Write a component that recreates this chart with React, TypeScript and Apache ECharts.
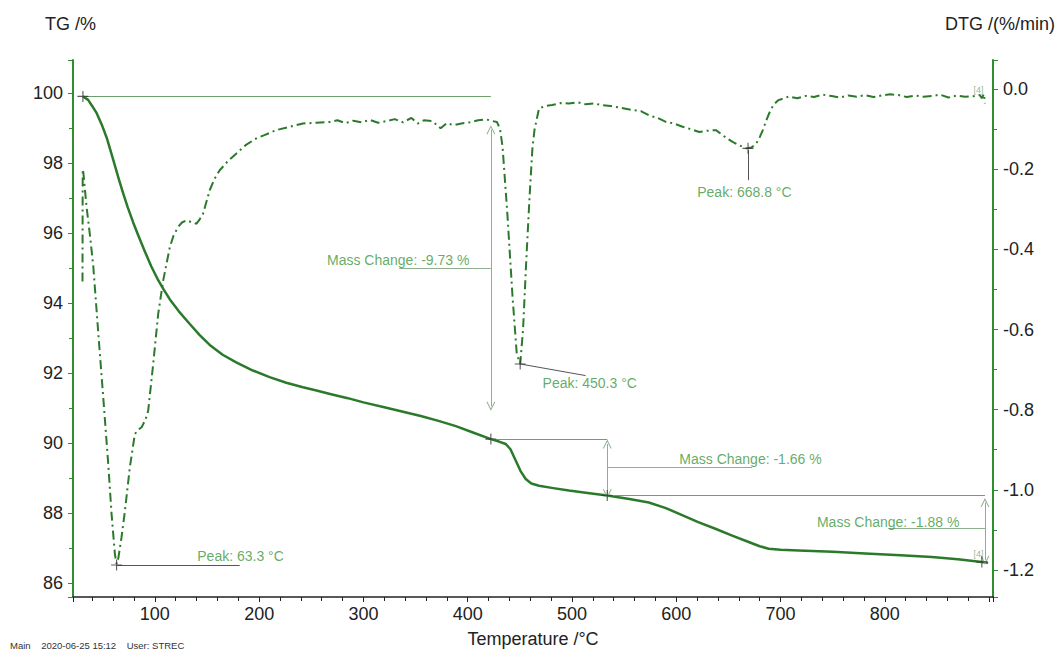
import React, { useEffect, useRef } from "react";
import * as echarts from "echarts";

// ---- data ----
const tgData: [number, number][] = [
  [31, 99.9], [36, 99.8], [40, 99.62], [44.2, 99.42], [49, 99.1], [53.8, 98.72], [57.5, 98.35],
  [61.7, 97.92], [65.5, 97.53], [69.7, 97.12], [74, 96.73], [79.2, 96.3], [84.5, 95.9], [90.4, 95.47],
  [96.5, 95.05], [103.2, 94.65], [108.5, 94.38], [114.4, 94.1], [123, 93.76], [133.5, 93.4], [143, 93.08],
  [152.6, 92.8], [165, 92.52], [178, 92.3], [194, 92.07], [210, 91.88], [226, 91.72], [242, 91.59],
  [255, 91.5], [268, 91.4], [285, 91.28], [300, 91.16], [320, 91.02], [340, 90.88], [355, 90.77],
  [372, 90.63], [388.6, 90.48], [405, 90.3], [422.2, 90.11], [430, 90.04], [436.5, 89.97], [441, 89.82],
  [446, 89.5], [451, 89.18], [455.6, 88.97], [461, 88.84], [468.4, 88.78], [482, 88.71], [497, 88.64],
  [515, 88.57], [533.8, 88.5], [555, 88.4], [573.7, 88.3], [590, 88.14], [605.6, 87.94], [621, 87.74],
  [637.5, 87.55], [653, 87.36], [669.4, 87.17], [680, 87.05], [688.6, 86.98], [700, 86.95], [717.3, 86.93],
  [750, 86.89], [781, 86.84], [815, 86.79], [845, 86.74], [870, 86.68], [893, 86.6], [899, 86.58],
];

const dtgData: [number, number][] = [
  [30.6, -0.48], [30.8, -0.2], [31.5, -0.21], [34.5, -0.294], [38, -0.37], [41, -0.444], [45.8, -0.611],
  [50.5, -0.769], [55.3, -0.936], [58.5, -1.061], [61.7, -1.161], [63.3, -1.185], [65, -1.17], [68, -1.119],
  [71.3, -1.0525], [76, -0.944], [80.8, -0.861], [84, -0.85], [87.3, -0.844], [91, -0.825], [93.6, -0.8025],
  [98.4, -0.686], [103.2, -0.561], [108, -0.4775], [114.4, -0.394], [118, -0.365], [122.3, -0.344],
  [126, -0.333], [130.3, -0.3275], [135, -0.332], [139.9, -0.336], [143, -0.325], [146.2, -0.311],
  [152.6, -0.2525], [157, -0.225], [162.2, -0.2025], [170, -0.18], [178.2, -0.161], [187, -0.14],
  [197.3, -0.123], [205, -0.115], [216.4, -0.1025], [228, -0.095], [242, -0.086], [255, -0.084],
  [268, -0.082], [275, -0.078], [283, -0.085], [290, -0.079], [298, -0.083], [306, -0.077], [314, -0.084],
  [322, -0.08], [330, -0.075], [338, -0.083], [346, -0.072], [352, -0.086], [358, -0.078], [366, -0.08],
  [374, -0.098], [380, -0.085], [386, -0.09], [394, -0.086], [402, -0.083], [410, -0.078], [418, -0.076],
  [424, -0.08], [428, -0.082], [431, -0.1], [433.4, -0.144], [438, -0.311], [443, -0.519], [447, -0.66],
  [450.3, -0.686], [453, -0.6025], [456, -0.436], [459.3, -0.269], [462, -0.15], [464, -0.1025],
  [468.4, -0.048], [475, -0.042], [481, -0.04], [489, -0.035], [497, -0.036], [505, -0.033], [513, -0.038],
  [521, -0.036], [529, -0.04], [537, -0.042], [545, -0.046], [558, -0.0525], [566, -0.055], [574, -0.066],
  [582, -0.072], [590, -0.082], [598, -0.086], [606, -0.094], [614, -0.1], [622, -0.107], [630, -0.104],
  [638, -0.1025], [646, -0.118], [654, -0.132], [660, -0.14], [667, -0.148], [672, -0.146], [676.6, -0.136],
  [680, -0.12], [683, -0.1025], [686, -0.08], [689, -0.061], [693, -0.04], [698, -0.0275], [707.7, -0.019],
  [716, -0.023], [724, -0.017], [732, -0.02], [740, -0.014], [749, -0.0175], [757, -0.021], [765, -0.016],
  [773, -0.019], [781, -0.015], [789, -0.02], [797, -0.016], [805, -0.013], [813, -0.015], [821, -0.02],
  [829, -0.016], [837, -0.019], [845, -0.0175], [853, -0.014], [861, -0.021], [869, -0.016], [877, -0.019],
  [885, -0.018], [891, -0.015], [893, -0.023], [895, -0.012], [896, -0.036],
];

// annotation geometry (data coordinates)
const tgGuideLines: [number, number][][] = [
  [[31, 99.9], [422.2, 99.9]],
  [[422.2, 90.11], [533.8, 90.11]],
  [[533.8, 88.5], [896, 88.5]],
];
const tgLeaderLines: [number, number][][] = [
  [[334.4, 95.0], [422.2, 95.0]],
  [[533.8, 89.31], [672.7, 89.31]],
  [[803.3, 87.55], [896, 87.55]],
];
const tgArrowLines: [number, number][][] = [
  [[422.2, 98.95], [422.2, 91.05]],
  [[533.8, 89.97], [533.8, 88.55]],
  [[896, 88.3], [896, 86.65]],
];
const dtgPeakLines: [number, number][][] = [
  [[63.3, -1.1875], [181.3, -1.1875]],
  [[450.3, -0.686], [513, -0.715]],
  [[668.8, -0.1525], [668.8, -0.2275]],
];
const tgCrosses: [number, number][] = [[31, 99.9], [422.2, 90.11], [533.8, 88.5], [893, 86.6]];
const dtgCrosses: [number, number][] = [[63.3, -1.1875], [450.3, -0.686], [668.8, -0.148]];

const tgLabels = [
  { name: "Mass Change: -9.73 %", value: [264.6, 95.24] },
  { name: "Mass Change: -1.66 %", value: [602.4, 89.54] },
  { name: "Mass Change: -1.88 %", value: [734.4, 87.75] },
];
const dtgLabels = [
  { name: "Peak: 63.3 °C", value: [140.2, -1.165] },
  { name: "Peak: 450.3 °C", value: [471.3, -0.7325] },
  { name: "Peak: 668.8 °C", value: [619.6, -0.2575] },
];
const tgTags = [{ name: "[4]", value: [884.5, 86.82] }];
const dtgTags = [{ name: "[4]", value: [884.5, -0.003] }];

const FONT = "'Liberation Sans', Arial, sans-serif";
const CURVE = "#2b7a2b";
const AXIS_GREEN = "#2f8f2f";
const ANNO_TEXT = "#3d963d";
const ANNO_LINE = "#8fae8f";
const CROSS = "path://M4.5,0 H5.5 V4.5 H10 V5.5 H5.5 V10 H4.5 V5.5 H0 V4.5 H4.5 Z";
const CHEVRON = "path://M5,0 L10,10 L8.8,10 L5,2.4 L1.2,10 L0,10 Z";

export default function App() {
  const ref = useRef<HTMLDivElement>(null);
  useEffect(() => {
    if (!ref.current) return;
    const chart = echarts.init(ref.current, null, { renderer: "svg" });
    const labelSeries = (data: any[], yIdx: number, color: string, size: number) => ({
      type: "scatter",
      yAxisIndex: yIdx,
      data,
      symbolSize: 1,
      itemStyle: { color: "transparent" },
      silent: true,
      z: 5,
      label: {
        show: true,
        position: "right",
        distance: 0,
        formatter: (p: any) => p.name,
        color,
        fontSize: size,
        fontFamily: FONT,
        align: "left",
        verticalAlign: "middle",
      },
    });
    const linesSeries = (coordsList: any[], yIdx: number, color: string, width: number, symbols: any) => ({
      type: "lines",
      coordinateSystem: "cartesian2d",
      xAxisIndex: 0,
      yAxisIndex: yIdx,
      polyline: false,
      silent: true,
      symbol: symbols,
      symbolSize: 9,
      lineStyle: { color, width, opacity: 1, curveness: 0 },
      data: coordsList.map((c) => ({ coords: c })),
      z: 4,
    });
    chart.setOption({
      animation: false,
      grid: { left: 73, right: 65, top: 60, bottom: 60, containLabel: false },
      xAxis: {
        type: "value",
        min: 21.5,
        max: 903.7,
        splitNumber: 9,
        name: "Temperature /°C",
        nameLocation: "middle",
        nameGap: 33,
        nameTextStyle: { color: "#222", fontSize: 18, fontFamily: FONT },
        axisLine: { show: true, onZero: false, lineStyle: { color: "#222", width: 1.5 } },
        axisTick: { show: true, inside: false, length: 5, lineStyle: { color: "#222" } },
        minorTick: { show: true, splitNumber: 5, length: 4, lineStyle: { color: "#222" } },
        splitLine: { show: false },
        axisLabel: {
          color: "#222",
          fontSize: 18,
          fontFamily: FONT,
          margin: 8,
          showMinLabel: false,
          showMaxLabel: false,
          formatter: (v: number) => (v >= 900 ? "" : String(v)),
        },
      },
      yAxis: [
        {
          type: "value",
          position: "left",
          min: 85.6,
          max: 100.94,
          splitNumber: 8,
          axisLine: { show: true, onZero: false, lineStyle: { color: AXIS_GREEN, width: 2 } },
          axisTick: { show: true, inside: false, length: 5, lineStyle: { color: AXIS_GREEN } },
          minorTick: { show: true, splitNumber: 2, length: 4, lineStyle: { color: AXIS_GREEN } },
          splitLine: { show: false },
          axisLabel: {
            color: "#222",
            fontSize: 18,
            fontFamily: FONT,
            margin: 10,
            showMinLabel: false,
            showMaxLabel: false,
          },
        },
        {
          type: "value",
          position: "right",
          min: -1.2675,
          max: 0.0725,
          splitNumber: 7,
          axisLine: { show: true, onZero: false, lineStyle: { color: AXIS_GREEN, width: 2 } },
          axisTick: { show: true, inside: false, length: 5, lineStyle: { color: AXIS_GREEN } },
          minorTick: { show: true, splitNumber: 2, length: 4, lineStyle: { color: AXIS_GREEN } },
          splitLine: { show: false },
          axisLabel: {
            color: "#222",
            fontSize: 18,
            fontFamily: FONT,
            margin: 10,
            showMinLabel: false,
            showMaxLabel: false,
            formatter: (v: number) => v.toFixed(1),
          },
        },
      ],
      graphic: [
        { type: "text", left: 45, top: 15, style: { text: "TG /%", fill: "#222", fontSize: 18, fontFamily: FONT } },
        { type: "text", right: 3, top: 15, style: { text: "DTG /(%/min)", fill: "#222", fontSize: 18, fontFamily: FONT } },
        {
          type: "text",
          left: 10,
          top: 640,
          style: { text: "Main    2020-06-25 15:12    User: STREC", fill: "#333", fontSize: 9.5, fontFamily: FONT },
        },
      ],
      series: [
        {
          name: "TG",
          type: "line",
          yAxisIndex: 0,
          data: tgData,
          showSymbol: false,
          smooth: false,
          lineStyle: { color: CURVE, width: 2.5, join: "round" },
          z: 3,
        },
        {
          name: "DTG",
          type: "line",
          yAxisIndex: 1,
          data: dtgData,
          showSymbol: false,
          lineStyle: { color: CURVE, width: 2, type: [9, 4, 2, 4] },
          z: 3,
        },
        linesSeries(tgGuideLines, 0, "#6aa06a", 1, ["none", "none"]),
        linesSeries(tgLeaderLines, 0, ANNO_LINE, 1, ["none", "none"]),
        linesSeries(tgArrowLines, 0, ANNO_LINE, 1, [CHEVRON, CHEVRON]),
        linesSeries(dtgPeakLines, 1, "#555", 1, ["none", "none"]),
        {
          type: "scatter",
          yAxisIndex: 0,
          data: tgCrosses,
          symbol: CROSS,
          symbolSize: 11,
          itemStyle: { color: "#333" },
          silent: true,
          z: 6,
        },
        {
          type: "scatter",
          yAxisIndex: 1,
          data: dtgCrosses,
          symbol: CROSS,
          symbolSize: 11,
          itemStyle: { color: "#333" },
          silent: true,
          z: 6,
        },
        labelSeries(tgLabels, 0, ANNO_TEXT, 14),
        labelSeries(dtgLabels, 1, ANNO_TEXT, 14),
        labelSeries(tgTags, 0, "#7f9f7f", 9),
        labelSeries(dtgTags, 1, "#7f9f7f", 9),
      ],
    });
    return () => chart.dispose();
  }, []);
  return (
    <div
      ref={ref}
      style={{ position: "absolute", left: 0, top: 0, width: 1058, height: 657, background: "#fff" }}
    />
  );
}
